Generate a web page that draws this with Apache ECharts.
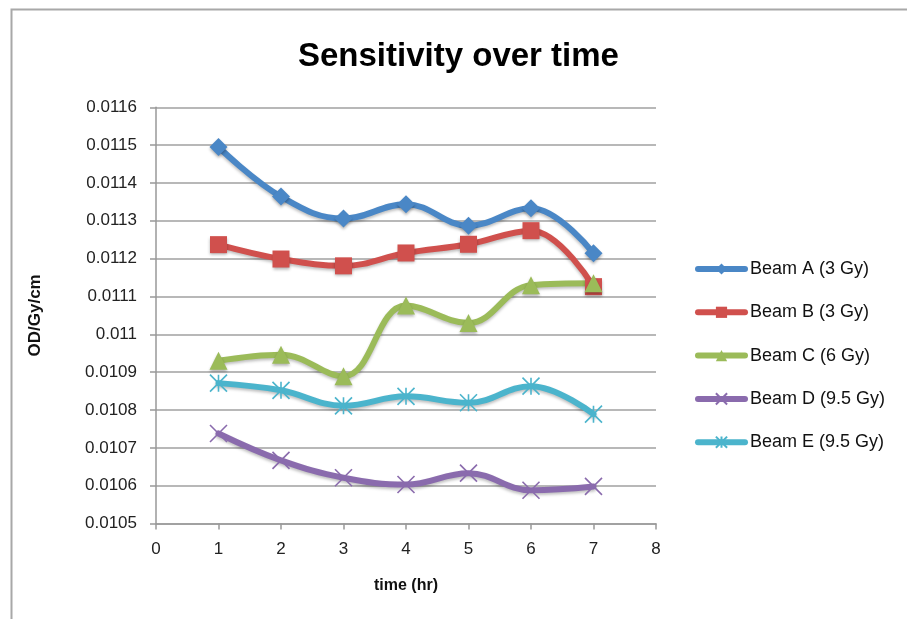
<!DOCTYPE html>
<html>
<head>
<meta charset="utf-8">
<script src="https://cdn.jsdelivr.net/npm/echarts@6/dist/echarts.min.js"></script>
<style>html,body{margin:0;padding:0;background:#fff}#c{width:907px;height:619px}</style>
</head>
<body>
<div id="c"></div>
<script>
var timeHr = [1, 2, 3, 4, 5, 6, 7];
var beamA = [0.011495, 0.011364, 0.011306, 0.011344, 0.011287, 0.011333, 0.011214];
var beamB = [0.011237, 0.011199, 0.011181, 0.011215, 0.011238, 0.011274, 0.011126];
var beamC = [0.010930, 0.010946, 0.010889, 0.011076, 0.011030, 0.011130, 0.011135];
var beamD = [0.010738, 0.010667, 0.010621, 0.010603, 0.010633, 0.010588, 0.010598];
var beamE = [0.010871, 0.010852, 0.010811, 0.010836, 0.010819, 0.010863, 0.010789];
var seriesNames = ['Beam A (3 Gy)', 'Beam B (3 Gy)', 'Beam C (6 Gy)', 'Beam D (9.5 Gy)', 'Beam E (9.5 Gy)'];
var seriesData = [beamA, beamB, beamC, beamD, beamE];
var colors = ['#4a87c6', '#d0504d', '#9bbb59', '#8a6bad', '#4bb4cc'];
var symbols = [
  'diamond',
  'rect',
  'triangle',
  'path://M0,0 L10,10 M10,0 L0,10',
  'path://M0,0 L10,10 M10,0 L0,10 M5,0 L5,10'
];
var symbolSizes = [18, 17, 18, 17, 17];

function pairs(arr) { return timeHr.map(function (t, i) { return [t, arr[i]]; }); }

var series = seriesNames.map(function (n, i) {
  var isPath = i >= 3;
  return {
    name: n,
    type: 'line',
    smooth: 0.4,
    data: pairs(seriesData[i]),
    symbol: symbols[i],
    symbolSize: symbolSizes[i],
    showSymbol: true,
    lineStyle: { color: colors[i], width: 6, cap: 'round', shadowColor: 'rgba(0,0,0,0.25)', shadowBlur: 3, shadowOffsetY: 2 },
    itemStyle: isPath ? { color: colors[i], borderColor: colors[i], borderWidth: 1.6 } : { color: colors[i], shadowColor: 'rgba(0,0,0,0.3)', shadowBlur: 3, shadowOffsetY: 2 },
    emphasis: { disabled: true }
  };
});

var chart = echarts.init(document.getElementById('c'), null, { renderer: 'canvas' });
chart.setOption({
  animation: false,
  backgroundColor: '#fff',
  title: {
    text: 'Sensitivity over time',
    left: 298,
    top: 40,
    padding: 0,
    textStyle: { fontFamily: 'Liberation Sans', fontWeight: 'bold', fontSize: 33, lineHeight: 34, color: '#000' }
  },
  grid: { left: 156, right: 251, top: 107.3, bottom: 95.5, containLabel: false },
  legend: {
    orient: 'vertical',
    left: 690,
    top: 254,
    itemWidth: 47,
    itemHeight: 14,
    itemGap: 23.3,
    data: seriesNames,
    lineStyle: { width: 6, cap: 'round', shadowBlur: 0 },
    textStyle: { fontFamily: 'Liberation Sans', fontSize: 18, lineHeight: 20, color: '#111' }
  },
  xAxis: {
    type: 'value',
    min: 0, max: 8, interval: 1,
    name: 'time (hr)',
    nameLocation: 'middle',
    nameGap: 54,
    nameTextStyle: { fontFamily: 'Liberation Sans', fontWeight: 'bold', fontSize: 16, color: '#111' },
    axisLine: { show: true, lineStyle: { color: '#999', width: 1.5 } },
    axisTick: { show: true, length: 6, lineStyle: { color: '#999', width: 1.5 } },
    axisLabel: { margin: 17, fontFamily: 'Liberation Sans', fontSize: 17, color: '#222' },
    splitLine: { show: false }
  },
  yAxis: {
    type: 'value',
    min: 0.0105, max: 0.0116, interval: 0.0001,
    name: 'OD/Gy/cm',
    nameLocation: 'middle',
    nameRotate: 90,
    nameGap: 112,
    nameTextStyle: { fontFamily: 'Liberation Sans', fontWeight: 'bold', fontSize: 17, color: '#111' },
    axisLine: { show: true, lineStyle: { color: '#999', width: 1.5 } },
    axisTick: { show: true, length: 6, lineStyle: { color: '#999', width: 1.5 } },
    axisLabel: {
      margin: 19, fontFamily: 'Liberation Sans', fontSize: 17, color: '#222',
      formatter: function (v) { return String(parseFloat(v.toFixed(4))); }
    },
    splitLine: { show: true, lineStyle: { color: '#a0a0a0', width: 1.5 } }
  },
  graphic: [{
    type: 'polyline',
    shape: { points: [[11.5, 619], [11.5, 9.5], [907, 9.5]] },
    style: { stroke: '#a8a8a8', lineWidth: 2, fill: null },
    silent: true
  }],
  series: series
});
</script>
</body>
</html>
